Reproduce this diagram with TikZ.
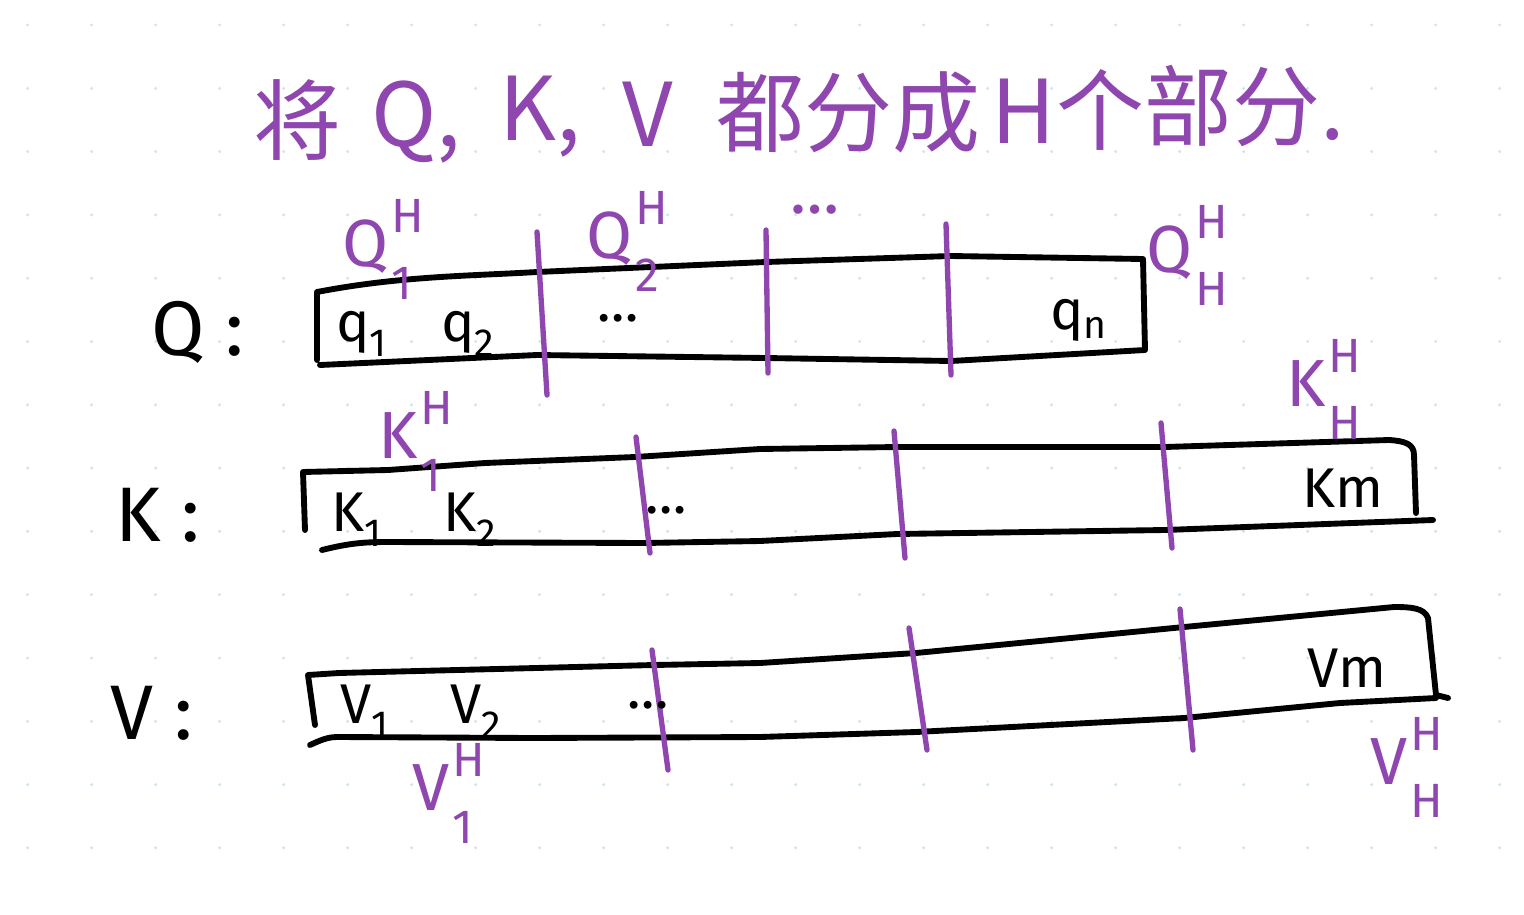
\documentclass[tikz,border=0pt]{standalone}
\usepackage{fontspec}
\setmainfont{Fira Sans}
\setsansfont{Fira Sans}
\newfontfamily\cjk{Noto Sans CJK SC}
\usepackage{tikz}

\definecolor{penpurple}{RGB}{143,70,175}
\definecolor{griddot}{RGB}{205,226,245}

\newcommand{\headlab}[3]{#1\kern2pt\rlap{\raisebox{-0.5em}{\fontsize{36}{36}\selectfont #3}}\raisebox{0.5em}{\fontsize{36}{36}\selectfont #2}}

\tikzset{
  ink/.style={draw=black, line width=4.4pt, line cap=round, line join=round},
  cut/.style={draw=penpurple, line width=4pt, line cap=round},
  titletext/.style={text=penpurple, inner sep=0.75pt, font=\cjk\fontsize{66}{66}\selectfont},
  rowtext/.style={text=black, inner sep=0.75pt, font=\fontsize{58}{58}\selectfont},
  celltext/.style={text=black, inner sep=0.75pt, font=\fontsize{42}{42}\selectfont},
  headtext/.style={text=penpurple, inner sep=0.5pt, font=\fontsize{50}{50}\selectfont},
}

\begin{document}
\begin{tikzpicture}[x=0.75pt,y=0.75pt,yscale=-1,xscale=1]
\useasboundingbox (0,0) rectangle (1524,914);
\fill [white] (0,0) rectangle (1524,914);

% Grid dots
\foreach \i in {0,...,23}
  \foreach \j in {0,...,13}
    \fill [griddot] (27.6+64*\i,25+63.3*\j) circle (1.2pt);

% Title
\draw (297,120) node (t1) [titletext] {将};
\draw (416,122) node (t2) [titletext] {Q,};
\draw (540,117) node (t3) [titletext] {K,};
\draw (648,114) node (t4) [titletext] {V};
\draw (848,112) node (t5) [titletext] {都分成};
\draw (1068,110) node (t6) [titletext] {H个};
\draw (1245,106) node (t7) [titletext] {部分.};

% Text Node
\draw (198,332) node (qrow) [rowtext] {Q :};
% Text Node
\draw (158,515) node (krow) [rowtext] {K :};
% Text Node
\draw (152,713) node (vrow) [rowtext] {V :};

% Box Q
\draw [ink] (317,360) -- (317,292) .. controls (400,276) and (470,276) .. (537,272)
  -- (766,262) -- (951,256) -- (1143,259) -- (1145,350) -- (951,361)
  -- (766,358) -- (537,355) -- (320,365);
% Box K
\draw [ink] (305,530) -- (303,472) -- (388,470) -- (485,463) -- (635,457)
  -- (760,449) -- (897,447) -- (1165,447) -- (1389,440)
  .. controls (1405,441) and (1414,444) .. (1414,455) -- (1416,513);
\draw [ink] (322,550) .. controls (350,543) and (365,542) .. (388,542)
  -- (645,543) -- (760,541) -- (897,534) -- (1165,530) -- (1433,520);
% Box V
\draw [ink] (315,725) -- (308,675) -- (339,673) -- (654,665) -- (760,663)
  -- (916,653) -- (1184,627) -- (1394,607)
  .. controls (1412,607) and (1424,608) .. (1428,618) -- (1436,695) -- (1448,698);
\draw [ink] (310,745) .. controls (325,738) and (330,737) .. (339,737)
  -- (533,738) -- (760,737) -- (916,732) -- (1184,718) -- (1340,703) -- (1436,698);

% Dividers Q
\draw [cut] (537,232) -- (547,395);
\draw [cut] (766,230) -- (768,373);
\draw [cut] (946,224) -- (951,375);
% Dividers K
\draw [cut] (636,437) -- (650,553);
\draw [cut] (894,431) -- (905,558);
\draw [cut] (1161,423) -- (1172,548);
% Dividers V
\draw [cut] (652,650) -- (668,770);
\draw [cut] (909,628) -- (927,750);
\draw [cut] (1180,609) -- (1193,750);

% Text Node
\draw (362,334) node (q1) [celltext] {$\mathsf{q}_{\mathsf{1}}$};
\draw (468,334) node (q2) [celltext] {$\mathsf{q}_{\mathsf{2}}$};
\draw (618,318) node (qdots) [celltext] {\dots};
\draw (1079,320) node (qn) [celltext] {$\mathsf{q}_{\mathsf{n}}$};
% Text Node
\draw (357,520) node (k1) [celltext] {$\mathsf{K}_{\mathsf{1}}$};
\draw (470,520) node (k2) [celltext] {$\mathsf{K}_{\mathsf{2}}$};
\draw (666,510) node (kdots) [celltext] {\dots};
\draw (1343,488) node (km) [celltext] {$\mathsf{Km}$};
% Text Node
\draw (365,712) node (v1) [celltext] {$\mathsf{V}_{\mathsf{1}}$};
\draw (476,712) node (v2) [celltext] {$\mathsf{V}_{\mathsf{2}}$};
\draw (648,705) node (vdots) [celltext] {\dots};
\draw (1347,668) node (vm) [celltext] {$\mathsf{Vm}$};

% Head labels
\draw (342,266) node (qh1) [headtext, anchor=base west] {\headlab{Q}{H}{1}};
\draw (586,258) node (qh2) [headtext, anchor=base west] {\headlab{Q}{H}{2}};
\draw (815,210) node (qhdots) [headtext] {\dots};
\draw (1146,272) node (qhh) [headtext, anchor=base west] {\headlab{Q}{H}{H}};
\draw (378,458) node (kh1) [headtext, anchor=base west] {\headlab{K}{H}{1}};
\draw (1286,406) node (khh) [headtext, anchor=base west] {\headlab{K}{H}{H}};
\draw (412,810) node (vh1) [headtext, anchor=base west] {\headlab{V}{H}{1}};
\draw (1370,784) node (vhh) [headtext, anchor=base west] {\headlab{V}{H}{H}};

\end{tikzpicture}
\end{document}
